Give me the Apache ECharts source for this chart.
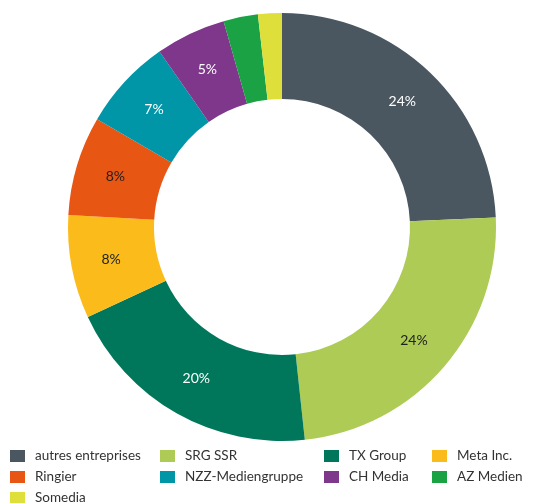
<!DOCTYPE html>
<html>
<head>
<meta charset="utf-8">
<script src="https://cdn.jsdelivr.net/npm/echarts@6/dist/echarts.min.js"></script>
<style>
  html, body { margin: 0; padding: 0; background: #fff; }
  #main { width: 556px; height: 503px; }
</style>
</head>
<body>
<div id="main"></div>
<script>
// Marktanteile (Anteil in %), Reihenfolge im Uhrzeigersinn ab 12 Uhr
var names = ['autres entreprises', 'SRG SSR', 'TX Group', 'Meta Inc.', 'Ringier', 'NZZ-Mediengruppe', 'CH Media', 'AZ Medien', 'Somedia'];
var values = [24.3, 24.0, 19.8, 7.8, 7.5, 6.9, 5.3, 2.6, 1.8];
var colors = ['#4a5760', '#aecb56', '#00775b', '#fbbc1b', '#e85614', '#0096a8', '#7e378a', '#1aa245', '#dfdf3b'];
var labelColors = ['#ffffff', '#222222', '#ffffff', '#222222', '#222222', '#ffffff', '#ffffff', '#ffffff', '#ffffff'];

// Legende: 4 Spalten
var legendCols = [
  ['autres entreprises', 'Ringier', 'Somedia'],
  ['SRG SSR', 'NZZ-Mediengruppe'],
  ['TX Group', 'CH Media'],
  ['Meta Inc.', 'AZ Medien']
];
var legendLeft = [10, 160, 324, 432];

var chart = echarts.init(document.getElementById('main'), null, { renderer: 'canvas' });

var fontFam = 'Lato, "Open Sans", sans-serif';

var legends = legendCols.map(function (col, i) {
  return {
    orient: 'vertical',
    left: legendLeft[i],
    top: 444,
    height: 80,
    padding: [5, 5, 5, 0],
    itemWidth: 15,
    itemHeight: 12,
    itemGap: 7,
    icon: 'rect',
    selectedMode: false,
    data: col,
    textStyle: { color: '#333', fontSize: 13.5, fontFamily: fontFam, padding: [0, 0, 0, 5] }
  };
});

var data = names.map(function (n, i) {
  return {
    name: n,
    value: values[i],
    itemStyle: { color: colors[i] },
    label: { show: values[i] >= 4, color: labelColors[i] }
  };
});

var option = {
  backgroundColor: '#fff',
  animation: false,
  legend: legends,
  series: [{
    type: 'pie',
    center: [282, 227],
    radius: [128, 214],
    startAngle: 90,
    clockwise: true,
    avoidLabelOverlap: false,
    label: {
      position: 'inside',
      fontSize: 14,
      fontFamily: fontFam,
      formatter: function (p) { return Math.round(p.value) + '%'; }
    },
    labelLine: { show: false },
    itemStyle: { borderWidth: 0 },
    emphasis: { disabled: true },
    data: data
  }]
};

chart.setOption(option);
</script>
</body>
</html>
